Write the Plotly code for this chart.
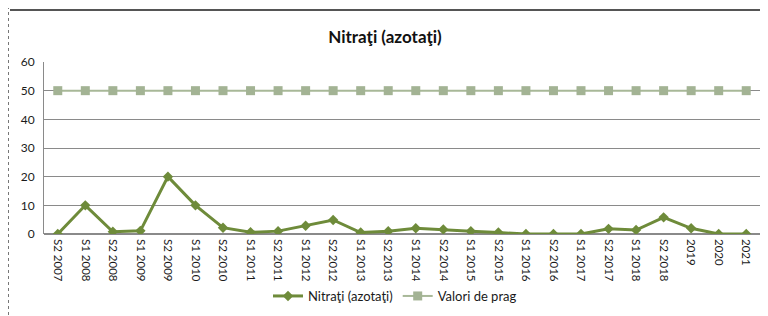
import plotly.graph_objects as go

categories = ["S2 2007", "S1 2008", "S2 2008", "S1 2009", "S2 2009", "S1 2010", "S2 2010",
              "S1 2011", "S2 2011", "S1 2012", "S2 2012", "S1 2013", "S2 2013", "S1 2014",
              "S2 2014", "S1 2015", "S2 2015", "S1 2016", "S2 2016", "S1 2017", "S2 2017",
              "S1 2018", "S2 2018", "2019", "2020", "2021"]
nitrati = [0, 10, 0.8, 1.1, 20, 10, 2.2, 0.6, 1, 2.9, 4.9, 0.5, 1, 2,
           1.6, 1, 0.5, 0, 0, 0, 1.8, 1.4, 5.8, 2, 0, 0]
prag = [50] * len(categories)
y_ticks = [0, 10, 20, 30, 40, 50, 60]

# page body has an 8px default margin; figure is sized to fill the window
OFF = 8
W, H = 768 - OFF, 316 - OFF
ML, MR, MT, MB = 44 - OFF, 8, 62 - OFF, 82
PW, PH = W - ML - MR, H - MT - MB

def px_x(x):
    return (x - OFF - ML) / PW

def px_y(y):
    return (H - (y - OFF) - MB) / PH

fig = go.Figure()
fig.add_trace(go.Scatter(
    x=categories, y=nitrati, name="Nitraţi (azotaţi)", mode="lines+markers",
    line=dict(color="#6E8B3A", width=3),
    marker=dict(symbol="diamond", size=8, color="#6E8B3A"),
))
fig.add_trace(go.Scatter(
    x=categories, y=prag, name="Valori de prag", mode="lines+markers",
    line=dict(color="#A8B898", width=2),
    marker=dict(symbol="square", size=9, color="#A3B394"),
))

fig.update_layout(
    width=W, height=H,
    margin=dict(l=ML, r=MR, t=MT, b=MB, autoexpand=False),
    paper_bgcolor="white", plot_bgcolor="white",
    font=dict(family="Lato, Open Sans, sans-serif", size=11, color="#1a1a1a"),
    title=dict(text="<b>Nitraţi (azotaţi)</b>", x=px_x(385), xanchor="center",
               xref="paper", y=1 - (37 - OFF) / H, yanchor="middle",
               font=dict(size=17, color="#111")),
    showlegend=True,
    legend=dict(orientation="h", x=px_x(395), xanchor="center", y=px_y(296), yanchor="middle",
                font=dict(size=13), bgcolor="rgba(0,0,0,0)", itemwidth=30),
    xaxis=dict(type="category", range=[-0.5, len(categories) - 0.5], tickangle=90,
               showgrid=False, showline=False, ticks="", tickfont=dict(size=11.5),
               automargin=False, ticklabelstandoff=4),
    yaxis=dict(range=[0, 60], tickvals=y_ticks, showgrid=True, gridcolor="#8a8a8a",
               gridwidth=1, showline=True, linecolor="#8a8a8a", zeroline=True,
               zerolinecolor="#8a8a8a", ticks="", tickfont=dict(size=12),
               automargin=False, ticklabelstandoff=6),
    shapes=[
        dict(type="line", xref="paper", yref="paper", x0=px_x(10), x1=px_x(768),
             y0=px_y(10), y1=px_y(10), line=dict(color="#555", width=2)),
        dict(type="line", xref="paper", yref="paper", x0=px_x(8), x1=px_x(8),
             y0=px_y(0), y1=px_y(316), line=dict(color="#777", width=2, dash="dot")),
    ],
)

fig.write_html("out.html")
